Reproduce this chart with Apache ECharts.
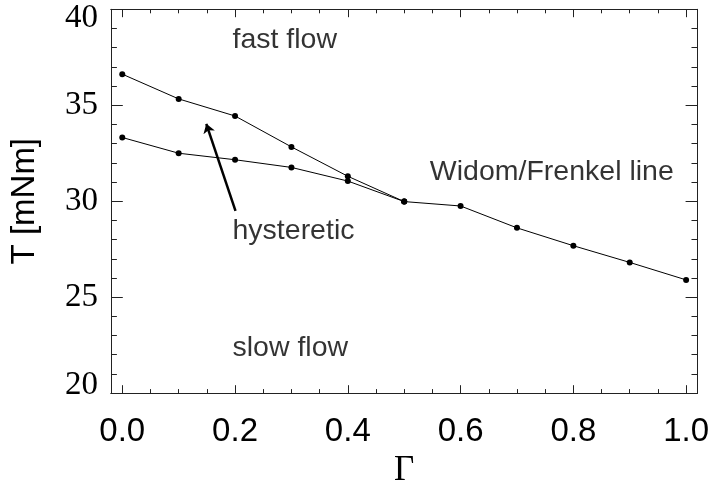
<!DOCTYPE html>
<html>
<head>
<meta charset="utf-8">
<script src="https://cdn.jsdelivr.net/npm/echarts@6/dist/echarts.min.js"></script>
<style>
  html, body { margin: 0; padding: 0; background: #fff; }
  #chart { width: 712px; height: 493px; }
</style>
</head>
<body>
<div id="chart"></div>
<script>
// Shear rate fraction Γ and torque T [mNm] along the flow transition
const gammaBranch = [0.0, 0.1, 0.2, 0.3, 0.4, 0.5];
const torqueUpper = [36.62, 35.33, 34.44, 32.83, 31.30, 29.98];   // upper hysteretic branch
const torqueLower = [33.32, 32.50, 32.16, 31.76, 31.05, 29.98];   // lower hysteretic branch
const gammaWidom = [0.5, 0.6, 0.7, 0.8, 0.9, 1.0];
const torqueWidom = [29.98, 29.75, 28.61, 27.68, 26.81, 25.90];   // Widom/Frenkel line

// Axis ticks
const xMajorTicks = [0.0, 0.2, 0.4, 0.6, 0.8, 1.0];
const xMinorTicks = [0.05, 0.1, 0.15, 0.25, 0.3, 0.35, 0.45, 0.5, 0.55,
                     0.65, 0.7, 0.75, 0.85, 0.9, 0.95];

// Region annotations: [Γ, T, text]
const regionLabels = [
  [0.1955, 38.40, 'fast flow'],
  [0.1955, 28.45, 'hysteretic'],
  [0.5455, 31.50, 'Widom/Frenkel line'],
  [0.1955, 22.32, 'slow flow']
];
// Arrow marking the hysteresis direction: [from, to]
const arrowPath = [[0.2008, 29.50], [0.149, 34.03]];

const pair = (xs, ys) => xs.map((x, i) => [x, ys[i]]);

const SANS = 'Liberation Sans, Arial, Helvetica, sans-serif';
const SERIF = 'Liberation Serif, Times New Roman, serif';
const AXIS_COLOR = '#222';

function xAxisDef(position, ticks, len, labels) {
  return {
    type: 'value', position: position, min: -0.02, max: 1.02,
    axisLine: { show: true, onZero: false, lineStyle: { color: AXIS_COLOR, width: 1 } },
    axisTick: { show: true, inside: true, length: len, customValues: ticks,
                lineStyle: { color: AXIS_COLOR, width: 1 } },
    axisLabel: labels ? {
      show: true, customValues: ticks, margin: 22,
      fontFamily: SANS, fontSize: 33, color: '#000',
      formatter: v => v.toFixed(1)
    } : { show: false },
    splitLine: { show: false },
    name: labels ? 'Γ' : '',
    nameLocation: 'middle', nameGap: 59,
    nameTextStyle: { fontFamily: SERIF, fontSize: 35, color: '#000' }
  };
}

function yAxisDef(position, labels) {
  return {
    type: 'value', position: position, min: 20, max: 40, interval: 5,
    axisLine: { show: true, onZero: false, lineStyle: { color: AXIS_COLOR, width: 1 } },
    axisTick: { show: true, inside: true, length: 11.8, lineStyle: { color: AXIS_COLOR, width: 1 } },
    minorTick: { show: true, splitNumber: 5, length: 5.9, lineStyle: { color: AXIS_COLOR, width: 1 } },
    axisLabel: labels ? {
      show: true, margin: 13, fontFamily: SERIF, fontSize: 33, color: '#000',
      formatter: v => v === 40 ? '{hi|40}' : (v === 20 ? '{lo|20}' : String(v)),
      rich: {
        hi: { fontFamily: SERIF, fontSize: 33, color: '#000', padding: [19, 0, 0, 0] },
        lo: { fontFamily: SERIF, fontSize: 33, color: '#000', padding: [0, 0, 16, 0] }
      }
    } : { show: false },
    splitLine: { show: false },
    name: labels ? 'T [mNm]' : '',
    nameLocation: 'middle', nameGap: 70,
    nameTextStyle: { fontFamily: SANS, fontSize: 33, color: '#000' }
  };
}

const lineSeries = (data) => ({
  type: 'line', data: data, xAxisIndex: 0, yAxisIndex: 0,
  symbol: 'circle', symbolSize: 6, showSymbol: true,
  itemStyle: { color: '#000' },
  lineStyle: { color: '#000', width: 1 },
  z: 3
});

const chart = echarts.init(document.getElementById('chart'), null, { renderer: 'canvas' });
chart.setOption({
  animation: false,
  backgroundColor: '#fff',
  grid: { left: 108.3, right: 13.7, top: 9.3, bottom: 86.3, containLabel: false },
  xAxis: [
    xAxisDef('bottom', xMajorTicks, 7.9, true),
    xAxisDef('bottom', xMinorTicks, 4, false),
    xAxisDef('top', xMajorTicks, 7.9, false),
    xAxisDef('top', xMinorTicks, 4, false)
  ],
  yAxis: [
    yAxisDef('left', true),
    yAxisDef('right', false)
  ],
  series: [
    lineSeries(pair(gammaBranch, torqueUpper)),
    lineSeries(pair(gammaBranch, torqueLower)),
    lineSeries(pair(gammaWidom, torqueWidom)),
    {
      type: 'lines', coordinateSystem: 'cartesian2d', xAxisIndex: 0, yAxisIndex: 0,
      polyline: false,
      symbol: ['none', 'arrow'], symbolSize: [0, 9],
      lineStyle: { color: '#000', width: 2.5, opacity: 1, curveness: 0 },
      data: [{ coords: arrowPath }],
      z: 4
    },
    {
      type: 'scatter', xAxisIndex: 0, yAxisIndex: 0,
      symbolSize: 0, silent: true,
      data: regionLabels,
      label: {
        show: true, position: 'right', distance: 0, align: 'left',
        fontFamily: SANS, fontSize: 28.5, color: '#000',
        formatter: p => p.data[2]
      }
    }
  ]
});
</script>
</body>
</html>
